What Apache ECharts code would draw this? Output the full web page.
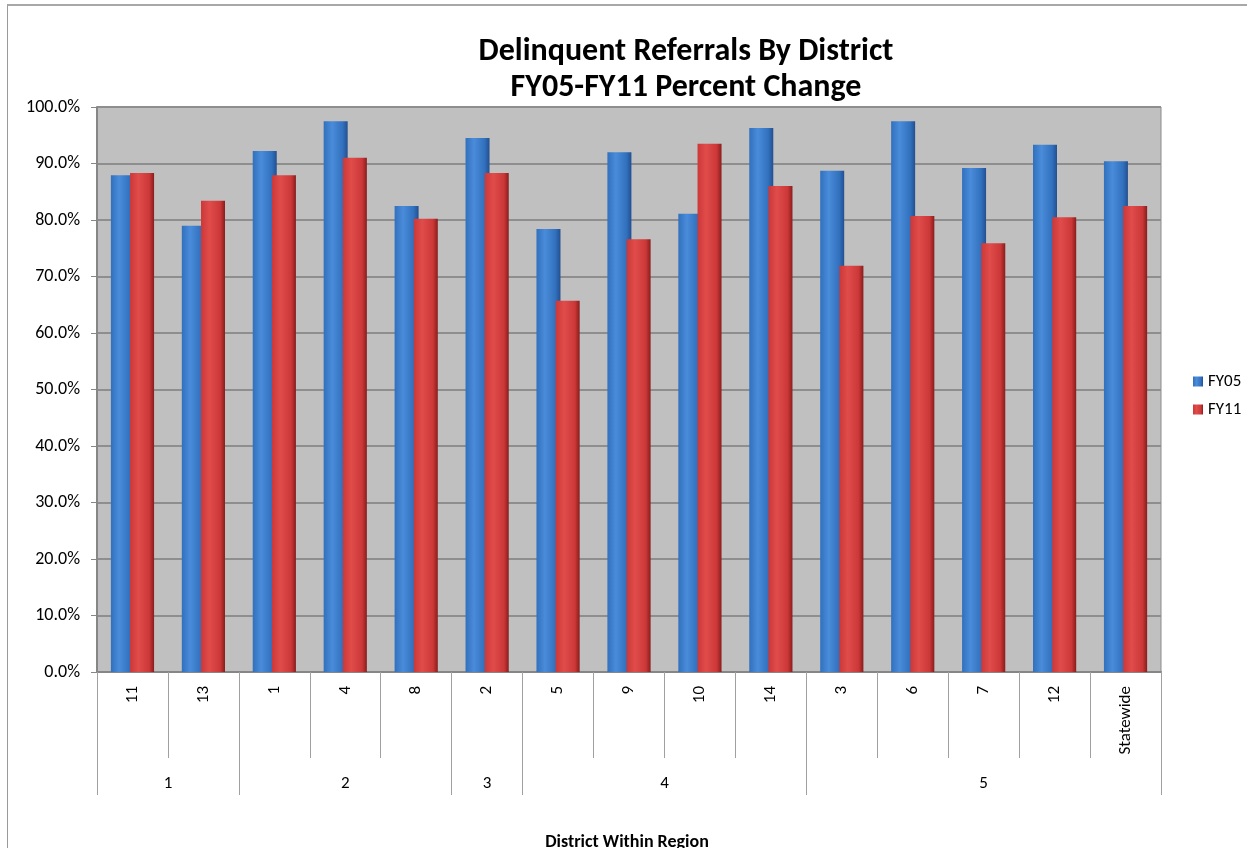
<!DOCTYPE html>
<html>
<head>
<meta charset="utf-8">
<script src="https://cdn.jsdelivr.net/npm/echarts@6/dist/echarts.min.js"></script>
<style>
  body { margin: 0; background: #fff; }
  #frame { position: absolute; left: 7px; top: 4px; width: 1300px; height: 900px;
    border-left: 1px solid #9a9a9a; border-top: 2px solid #a8a8a8; }
  #chart { position: absolute; left: 0; top: 0; width: 1247px; height: 848px; }
</style>
</head>
<body>
<div id="frame"></div>
<div id="chart"></div>
<script>
// district (inner) categories and region (outer) groups
const districts = ['11', '13', '1', '4', '8', '2', '5', '9', '10', '14', '3', '6', '7', '12', 'Statewide']
const regions = ['1', '2', '3', '4', '5']
const regionSpans = [2, 3, 1, 4, 5]

// percent values
const fy05 = [87.9, 79.0, 92.2, 97.5, 82.5, 94.5, 78.4, 92.0, 81.1, 96.3, 88.7, 97.5, 89.2, 93.3, 90.4]
const fy11 = [88.3, 83.4, 87.9, 91.0, 80.2, 88.3, 65.7, 76.6, 93.5, 86.0, 71.9, 80.7, 75.9, 80.5, 82.5]

const yTicks = { min: 0, max: 100, step: 10 }

// outer axis: half-step points, labels at group centres, ticks at group edges
const halfPoints = new Array(districts.length * 2 + 1).fill('')
const edges = new Set([0])
let pos = 0
regions.forEach((r, i) => {
  halfPoints[pos * 2 + regionSpans[i]] = r
  pos += regionSpans[i]
  edges.add(pos * 2)
})

const font = 'Carlito, Lato, "Liberation Sans", sans-serif'

function cyl(c1, c2, c3) {
  return { type: 'linear', x: 0, y: 0, x2: 1, y2: 0,
    colorStops: [
      { offset: 0, color: c1 },
      { offset: 0.35, color: c2 },
      { offset: 0.8, color: c1 },
      { offset: 1, color: c3 }
    ] }
}

const chart = echarts.init(document.getElementById('chart'))
chart.setOption({
  animation: false,
  textStyle: { fontFamily: font },
  title: [
    {
      text: 'Delinquent Referrals By District\nFY05-FY11 Percent Change',
      left: 681, top: 29, textAlign: 'center',
      textStyle: { fontFamily: font, fontSize: 32, fontWeight: 'bold', color: '#000', lineHeight: 36 }
    },
    {
      text: 'District Within Region',
      left: 622, top: 828, textAlign: 'center',
      textStyle: { fontFamily: font, fontSize: 18, fontWeight: 'bold', color: '#000' }
    }
  ],
  legend: {
    orient: 'vertical', left: 1188, top: 368,
    itemWidth: 10, itemHeight: 10, itemGap: 11,
    icon: 'rect',
    textStyle: { fontFamily: font, fontSize: 17, color: '#000' },
    data: ['FY05', 'FY11']
  },
  grid: {
    left: 97, right: 86, top: 107, bottom: 176,
    show: true, backgroundColor: '#c0c0c0', borderColor: '#8c8c8c', borderWidth: 1
  },
  xAxis: [
    {
      type: 'category', data: districts, position: 'bottom',
      axisLine: { lineStyle: { color: '#868686', width: 2 } },
      axisTick: { show: true, interval: 0, length: 86, lineStyle: { color: '#a0a0a0' } },
      axisLabel: { interval: 0, rotate: 90, margin: 14, fontSize: 17, color: '#000', fontFamily: font }
    },
    {
      type: 'category', data: halfPoints, position: 'bottom', offset: 86,
      boundaryGap: false,
      axisLine: { show: false },
      axisTick: { show: true, length: 37, interval: (i) => edges.has(i), lineStyle: { color: '#a0a0a0' } },
      axisLabel: { interval: (i, v) => v !== '', margin: 17, fontSize: 17, color: '#000', fontFamily: font }
    }
  ],
  yAxis: {
    type: 'value', min: yTicks.min, max: yTicks.max, interval: yTicks.step,
    axisLine: { show: true, lineStyle: { color: '#868686', width: 2 } },
    axisTick: { show: true, length: 6, lineStyle: { color: '#868686' } },
    axisLabel: { formatter: v => v.toFixed(1) + '%', fontSize: 18, color: '#000', margin: 17, fontFamily: font },
    splitLine: { lineStyle: { color: '#8e8e8e', width: 2 } }
  },
  series: [
    {
      name: 'FY05', type: 'bar', data: fy05, xAxisIndex: 0,
      barWidth: 24, barGap: '-20%',
      itemStyle: { color: cyl('#3070bd', '#4b8cda', '#234f8f') }
    },
    {
      name: 'FY11', type: 'bar', data: fy11, xAxisIndex: 0,
      barWidth: 24,
      itemStyle: { color: cyl('#cc3838', '#df4c4a', '#8a1c1c') }
    }
  ]
})
</script>
</body>
</html>
